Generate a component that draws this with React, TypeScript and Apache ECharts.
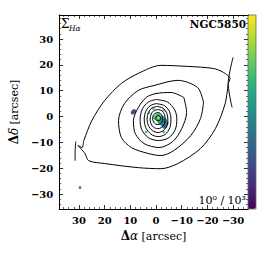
import React, { useEffect, useRef } from 'react';
import * as echarts from 'echarts';

// axis extents (arcsec)
const X_MIN = -35.8;
const X_MAX = 37.7;
const Y_MIN = -35.8;
const Y_MAX = 39.3;

// contour lines, outermost first: [Δα, Δδ]
const contour1: number[][] = [
  [-28.1, 12.8], [-28.8, 14.7], [-26.2, 17.1], [-22.3, 18.6], [-12.3, 19.4], [-1.9, 19.8],
  [6.9, 16.7], [13.5, 12.8], [20, 6.2], [25, -1.6], [28.1, -9.3], [28.8, -12],
  [30.4, -11.2], [27.7, -14.3], [26.2, -17.1], [20, -18.2], [6.9, -19.8], [-1.9, -20.2],
  [-8.5, -18.2], [-17.3, -12.4], [-23.1, -4.7], [-26.9, 5], [-28.1, 12.8],
];
const spurRight: number[][] = [[-30, 22.9], [-28.1, 12.8], [-29.6, 3.5]];
const spurLeft: number[][] = [[31.2, -9.7], [31.5, -13.2], [31.5, -17.1]];
const contour2: number[][] = [
  [-18.5, 5.4], [-16.2, 11.2], [-8.5, 14], [0.8, 12], [6.9, 10.1], [12.3, 5], [14.6, -1.6],
  [13.5, -8.1], [9.6, -12], [3.1, -14.3], [-1.9, -15.1], [-6.9, -13.2], [-13.5, -7.4],
  [-17.3, -0.8], [-18.5, 5.4],
];
const contour3: number[][] = [
  [-10.8, 7.4], [-5.8, 9.3], [0, 8.9], [3.8, 7.4], [6.9, 3.5], [8.8, -1.6], [8.1, -6.6],
  [4.6, -10.5], [-1.2, -12], [-6.5, -9.7], [-10, -4.7], [-11.9, 1.6], [-10.8, 7.4],
];
const contour4: number[][] = [
  [0, 6.6], [-4.5, 5.6], [-7.3, 2.5], [-8.1, -1], [-7.5, -5], [-5, -8.2], [-1, -9.3],
  [3, -8.2], [5.6, -5], [6.2, -1], [5.3, 3], [3, 5.6], [0, 6.6],
];
const contour5: number[][] = [
  [0, 5], [-3.3, 4.2], [-5.3, 1.8], [-5.8, -1], [-5.4, -4.3], [-3.6, -6.9], [-0.8, -7.8],
  [2, -6.8], [4, -4.3], [4.6, -1], [4, 2], [2.3, 4.2], [0, 5],
];
const contour6: number[][] = [
  [-0.5, 3.9], [-2.8, 3.2], [-4.2, 1.2], [-4.6, -1], [-4.3, -3.6], [-2.8, -5.5], [-0.8, -6.2],
  [1.5, -5.4], [3, -3.4], [3.5, -1], [3, 1.5], [1.6, 3.3], [-0.5, 3.9],
];
const contour7: number[][] = [
  [-0.6, 2.7], [-2.3, 2.2], [-3.3, 0.7], [-3.5, -1], [-3.2, -3], [-2.1, -4.3], [-0.6, -4.7],
  [1, -4.1], [2, -2.7], [2.3, -1], [1.9, 0.9], [0.9, 2.2], [-0.6, 2.7],
];
const contour8: number[][] = [
  [-0.6, 1.6], [-1.7, 1.2], [-2.4, 0.2], [-2.5, -1], [-2.2, -2.3], [-1.3, -3], [-0.4, -3.1],
  [0.6, -2.6], [1.2, -1.6], [1.3, -0.4], [0.8, 0.9], [-0.6, 1.6],
];
const contour9: number[][] = [
  [-0.8, 0.4], [-1.6, 0], [-1.8, -0.7], [-1.3, -1.5], [-0.4, -1.5], [0.1, -0.8], [-0.1, 0], [-0.8, 0.4],
];

// Hα surface brightness pixels: [Δα, Δδ, log10 value]
const corePixels: number[][] = [
  [-0.8, -0.4, 3.0],
  [-0.3, -0.4, 2.75], [-1.3, -0.4, 2.75], [-0.8, 0.1, 2.75], [-0.8, -0.9, 2.75],
  [-0.3, 0.1, 2.5], [-1.3, 0.1, 2.5], [-0.3, -0.9, 2.5], [-1.3, -0.9, 2.55],
  [0.2, -0.4, 2.2], [-1.8, -0.4, 2.3], [-0.8, 0.6, 2.2], [-0.8, -1.4, 2.3],
  [0.2, 0.1, 2.0], [-1.8, 0.1, 2.0], [0.2, -0.9, 2.0], [-1.8, -0.9, 2.2],
  [-0.3, 0.6, 2.0], [-1.3, 0.6, 2.0], [-0.3, -1.4, 2.1], [-1.3, -1.4, 2.2],
  [0.7, -0.4, 1.8], [-2.3, -0.4, 1.9], [-0.8, 1.1, 1.8], [-0.8, -1.9, 1.9],
];
const blobPixels: number[][] = [
  [-2.3, -0.4, 1.7], [-2.8, -0.4, 1.5],
  [-2.3, -0.9, 1.6], [-2.8, -0.9, 1.5], [-3.3, -0.9, 1.4],
  [-1.8, -1.4, 1.8], [-2.3, -1.4, 1.6], [-2.8, -1.4, 1.5], [-3.3, -1.4, 1.4], [-3.8, -1.4, 1.2],
  [-1.3, -1.9, 1.8], [-1.8, -1.9, 1.6], [-2.3, -1.9, 1.5], [-2.8, -1.9, 1.4], [-3.3, -1.9, 1.3], [-3.8, -1.9, 1.2],
  [-1.3, -2.4, 1.6], [-1.8, -2.4, 1.5], [-2.3, -2.4, 1.4], [-2.8, -2.4, 1.35], [-3.3, -2.4, 1.3], [-3.8, -2.4, 1.1], [-4.3, -2.4, 1.0],
  [-1.8, -2.9, 1.4], [-2.3, -2.9, 1.3], [-2.8, -2.9, 1.3], [-3.3, -2.9, 1.2], [-3.8, -2.9, 1.1], [-4.3, -2.9, 1.0],
  [-2.3, -3.4, 1.2], [-2.8, -3.4, 1.1], [-3.3, -3.4, 1.1], [-3.8, -3.4, 1.0],
  [-2.8, -3.9, 1.0], [-3.3, -3.9, 0.9], [-3.8, -3.9, 1.0],
  [-3.3, -4.4, 0.9],
];
const knotPixels: number[][] = [
  [8.8, 1.8, 0.7], [9.3, 1.8, 0.6], [8.3, 1.8, 0.6], [8.8, 2.3, 0.6], [8.8, 1.3, 0.6],
  [9.3, 1.3, 0.5], [8.3, 2.3, 0.5],
];
const strayPixels: number[][] = [
  [29.6, -27.5, 0.2], [2.7, 1.5, 1.8], [-3, 2.4, 1.9], [3.9, -6, 1.7], [-3, -6, 1.8], [1, 3, 2.0],
];

const viridis = ['#440154', '#482878', '#3e4989', '#31688e', '#26828e', '#1f9e89', '#35b779', '#6ece58', '#b5de2b', '#fde725'];

const SERIF = 'DejaVu Serif';

const fmtTick = (v: number) => {
  if (Math.abs(v % 10) > 1e-6) return '';
  return v < 0 ? '\u2212' + Math.abs(v) : String(v);
};

export default function App() {
  const ref = useRef<HTMLDivElement>(null);
  useEffect(() => {
    if (!ref.current) return;
    const chart = echarts.init(ref.current, undefined, { renderer: 'svg' });
    const common = {
      type: 'value' as const,
      minInterval: 10,
      maxInterval: 10,
      axisLine: { show: true, onZero: false, lineStyle: { color: '#000', width: 1 } },
      axisTick: { show: true, inside: true, length: 4, lineStyle: { color: '#000', width: 0.8 } },
      minorTick: { show: true, splitNumber: 5, length: 2, lineStyle: { color: '#000', width: 0.6 } },
      splitLine: { show: false },
      minorSplitLine: { show: false },
    };
    const labelStyle = {
      formatter: fmtTick,
      fontFamily: SERIF,
      fontWeight: 'bold' as const,
      fontSize: 10,
      color: '#000',
    };
    const nameRich = {
      d: { fontFamily: SERIF, fontWeight: 'bold' as const, fontSize: 12, color: '#000' },
      a: { fontFamily: SERIF, fontStyle: 'italic' as const, fontSize: 12, color: '#000' },
      u: { fontFamily: SERIF, fontSize: 11, color: '#000' },
    };
    const lineSeries = (data: number[][]) => ({
      type: 'line' as const,
      data,
      showSymbol: false,
      symbol: 'none',
      smooth: 0.3,
      silent: true,
      z: 3,
      lineStyle: { color: '#000', width: 1 },
    });
    chart.setOption({
      animation: false,
      grid: { left: 57, top: 15, right: 26, bottom: 48, containLabel: false },
      xAxis: [
        {
          ...common, position: 'bottom', inverse: true, min: X_MIN, max: X_MAX,
          axisLabel: { ...labelStyle, margin: 6 },
          name: '{d|\u0394}{a|\u03b1} {u|[arcsec]}', nameLocation: 'middle', nameGap: 21,
          nameTextStyle: { rich: nameRich },
        },
        { ...common, position: 'top', inverse: true, min: X_MIN, max: X_MAX, axisLabel: { show: false } },
      ],
      yAxis: [
        {
          ...common, position: 'left', min: Y_MIN, max: Y_MAX,
          axisLabel: { ...labelStyle, margin: 6 },
          name: '{d|\u0394}{a|\u03b4} {u|[arcsec]}', nameLocation: 'middle', nameGap: 30,
          nameTextStyle: { rich: nameRich },
        },
        { ...common, position: 'right', min: Y_MIN, max: Y_MAX, axisLabel: { show: false } },
      ],
      visualMap: {
        type: 'continuous', min: 0, max: 3, dimension: 2, seriesIndex: 0,
        inRange: { color: viridis }, calculable: false, padding: 0,
        left: 248, top: 15, itemWidth: 8, itemHeight: 194, text: null as any,
        orient: 'vertical',
      },
      graphic: [
        { type: 'text', left: 61, top: 18, style: { text: '\u03a3', fontFamily: SERIF, fontSize: 12, fill: '#000' } },
        { type: 'text', left: 69, top: 24, style: { text: 'H\u03b1', fontFamily: SERIF, fontStyle: 'italic', fontSize: 7.5, fill: '#000' } },
        { type: 'text', right: 28, top: 18, style: { text: 'NGC5850', fontFamily: SERIF, fontWeight: 'bold', fontSize: 10.5, fill: '#000' } },
        { type: 'text', right: 28, top: 195, style: { text: '10\u2070 / 10\u00b3', fontFamily: SERIF, fontSize: 11, fill: '#000' } },
        { type: 'rect', z: 100, shape: { x: 248, y: 15, width: 8, height: 194 }, style: { fill: 'none', stroke: '#666', lineWidth: 0.8 } },
      ],
      series: [
        {
          type: 'scatter', symbol: 'rect', symbolSize: 2.4, silent: true, z: 1,
          data: [...corePixels, ...blobPixels, ...knotPixels, ...strayPixels],
        },
        lineSeries(contour1),
        lineSeries(spurRight),
        lineSeries(spurLeft),
        lineSeries(contour2),
        lineSeries(contour3),
        lineSeries(contour4),
        lineSeries(contour5),
        lineSeries(contour6),
        lineSeries(contour7),
        lineSeries(contour8),
        lineSeries(contour9),
      ],
    });
    return () => chart.dispose();
  }, []);
  return <div ref={ref} style={{ position: 'absolute', left: 0, top: 0, width: 274, height: 257 }} />;
}
